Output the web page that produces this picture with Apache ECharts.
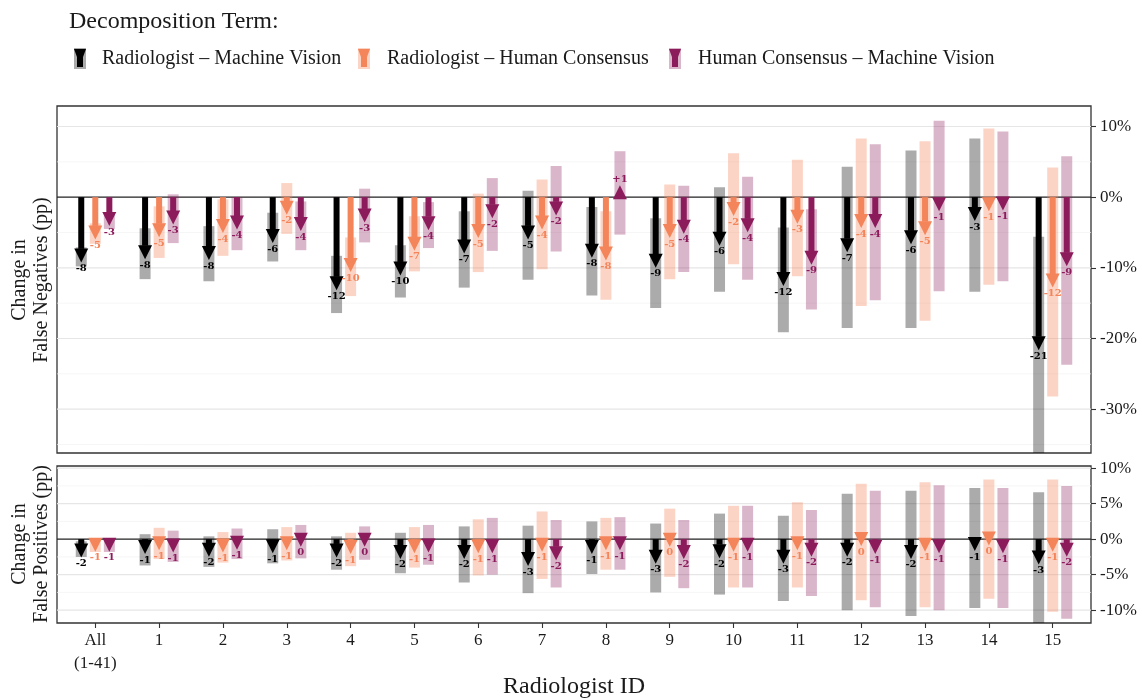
<!DOCTYPE html>
<html>
<head>
<meta charset="utf-8">
<script src="https://cdn.jsdelivr.net/npm/echarts@6/dist/echarts.min.js"></script>
<style>html,body{margin:0;padding:0;background:#fff}#c{width:1142px;height:700px}</style>
</head>
<body>
<div id="c"></div>
<script>
// ---------------- data ----------------
const categories = ["All\n(1-41)", "1", "2", "3", "4", "5", "6", "7", "8", "9", "10", "11", "12", "13", "14", "15"];
const termNames = ["Radiologist \u2013 Machine Vision", "Radiologist \u2013 Human Consensus", "Human Consensus \u2013 Machine Vision"];
const fnTicks = [10, 0, -10, -20, -30];
const fpTicks = [10, 5, 0, -5, -10];

// False negatives (pp)
const fnRadMv   = [-8.45, -8.0, -8.1, -5.7, -12.4, -10.3, -7.2, -5.2, -7.8, -9.2, -6.1, -11.8, -7.0, -5.9, -2.6, -20.9];
const fnRadMvLo = [-9.8, -11.6, -11.9, -9.1, -16.4, -14.2, -12.8, -11.7, -13.9, -15.7, -13.4, -19.1, -18.5, -18.5, -13.4, -40.0];
const fnRadMvHi = [-7.1, -4.4, -4.1, -2.2, -8.3, -6.8, -2.0, 0.9, -1.4, -3.0, 1.4, -4.3, 4.3, 6.6, 8.3, -5.6];
const fnRadHc   = [-5.2, -4.9, -4.3, -1.7, -9.8, -6.8, -5.0, -3.8, -8.2, -5.0, -1.9, -3.0, -3.6, -4.6, -1.2, -12.0];
const fnRadHcLo = [-6.6, -8.6, -8.3, -5.2, -14.0, -10.5, -10.6, -10.2, -14.5, -11.6, -9.5, -11.2, -15.4, -17.5, -12.4, -28.2];
const fnRadHcHi = [-3.7, -1.3, -0.3, 2.0, -5.7, -2.7, 0.5, 2.5, -2.0, 1.8, 6.2, 5.3, 8.3, 7.9, 9.7, 4.2];
const fnHcMv    = [-3.3, -3.1, -3.8, -4.0, -2.8, -3.9, -2.2, -1.8, 0.9, -4.4, -4.2, -8.8, -3.6, -1.2, -1.1, -9.0];
const fnHcMvLo  = [-4.5, -6.5, -7.5, -7.5, -6.4, -7.2, -7.6, -7.7, -5.3, -10.6, -11.7, -15.9, -14.6, -13.3, -11.9, -23.7];
const fnHcMvHi  = [-2.1, 0.4, 0.0, -0.6, 1.2, -0.7, 2.7, 4.4, 6.5, 1.6, 2.9, -1.7, 7.5, 10.8, 9.3, 5.8];

// False positives (pp)
const fpRadMv   = [-1.8, -1.3, -1.7, -1.2, -1.8, -2.0, -2.0, -3.0, -1.3, -2.7, -1.9, -2.7, -1.7, -2.0, -0.9, -2.8];
const fpRadMvLo = [-2.5, -3.7, -3.9, -3.4, -4.3, -4.8, -6.1, -7.6, -4.9, -7.5, -7.8, -8.7, -10.0, -10.8, -9.7, -13.0];
const fpRadMvHi = [-0.3, 0.7, 0.4, 1.4, 0.4, 0.9, 1.8, 1.9, 2.5, 2.2, 3.6, 3.3, 6.4, 6.8, 7.2, 6.6];
const fpRadHc   = [-1.0, -0.8, -1.1, -0.8, -1.3, -1.2, -1.2, -1.0, -0.8, -0.3, -1.0, -0.8, -0.2, -1.0, -0.1, -1.0];
const fpRadHcLo = [-1.8, -2.8, -3.3, -3.0, -3.8, -4.0, -5.1, -5.6, -4.3, -5.3, -6.8, -6.8, -8.6, -9.6, -8.4, -10.2];
const fpRadHcHi = [-0.1, 1.6, 1.0, 1.7, 0.9, 1.7, 2.8, 3.9, 3.0, 4.3, 4.7, 5.2, 7.8, 8.0, 8.4, 8.4];
const fpHcMv    = [-1.0, -1.1, -0.7, -0.3, -0.3, -1.1, -1.2, -2.2, -0.8, -2.0, -1.0, -1.7, -1.3, -1.2, -1.2, -1.7];
const fpHcMvLo  = [-1.8, -3.2, -2.8, -2.7, -2.9, -3.6, -5.0, -6.8, -4.3, -6.9, -6.8, -8.0, -9.6, -10.0, -9.7, -11.2];
const fpHcMvHi  = [-0.1, 1.2, 1.5, 2.0, 1.8, 2.0, 3.0, 2.7, 3.1, 2.7, 4.7, 4.1, 6.8, 7.6, 7.2, 7.5];

// ---------------- style ----------------
const SERIF = "'Liberation Serif', 'DejaVu Serif', serif";
const colors = ["#000000", "#F4845A", "#8C1B5C"];
const ciColors = ["rgba(0,0,0,0.33)", "rgba(244,132,90,0.35)", "rgba(140,27,92,0.32)"];
const offsets = [-0.22, 0, 0.22];
const CIW = 11, SHAFT = 6, HW = 14, HEAD = 14, OVER = 5.5;
// gridline levels: [value, kind] kind 1 = minor, 2 = major, 3 = zero line
const fnGridLevels = [[10, 2], [5, 1], [-5, 1], [-10, 2], [-15, 1], [-20, 2], [-25, 1], [-30, 2], [-35, 1], [0, 3]];
const fpGridLevels = [[10, 2], [7.5, 1], [5, 2], [2.5, 1], [-2.5, 1], [-5, 2], [-7.5, 1], [-10, 2], [0, 3]];

function fmtLabel(v) {
  const r = Math.round(v);
  if (r === 0) return "0";
  return r > 0 ? "+" + r : String(r);
}

function makeRender(k) {
  return function (params, api) {
    const i = api.value(0), v = api.value(1), lo = api.value(2), hi = api.value(3);
    const x = api.coord([i + offsets[k], 0])[0];
    const y0 = api.coord([i, 0])[1];
    const yv = api.coord([i, v])[1];
    const yLo = api.coord([i, lo])[1];
    const yHi = api.coord([i, hi])[1];
    const dir = v < 0 ? 1 : -1;
    const tip = yv + dir * OVER;
    const base = tip - dir * HEAD;
    const children = [];
    children.push({
      type: 'rect',
      shape: { x: x - CIW / 2, y: Math.min(yLo, yHi), width: CIW, height: Math.abs(yLo - yHi) },
      style: { fill: ciColors[k] }
    });
    if (dir * (base - y0) > 0) {
      children.push({
        type: 'rect',
        shape: { x: x - SHAFT / 2, y: Math.min(y0, base), width: SHAFT, height: Math.abs(base - y0) + 0.5 },
        style: { fill: colors[k] }
      });
    }
    children.push({
      type: 'polygon',
      shape: { points: [[x - HW / 2, base], [x + HW / 2, base], [x, tip]] },
      style: { fill: colors[k] }
    });
    children.push({
      type: 'text',
      x: x,
      y: tip + dir * 1,
      style: {
        text: fmtLabel(v),
        fill: colors[k],
        font: "bold 10px 'DejaVu Serif', serif",
        align: 'center',
        verticalAlign: dir > 0 ? 'top' : 'bottom'
      }
    });
    return { type: 'group', children: children };
  };
}

function makeGridRender(levels) {
  return function (params, api) {
    const cs = params.coordSys;
    const children = levels.map(function (lv) {
      const y = api.coord([0, lv[0]])[1];
      let stroke = lv[1] === 2 ? '#E6E6E6' : '#F2F2F2';
      let lw = lv[1] === 2 ? 1.2 : 0.7;
      if (lv[1] === 3) { stroke = '#222'; lw = 1.3; }
      return { type: 'line', shape: { x1: cs.x, y1: y, x2: cs.x + cs.width, y2: y }, style: { stroke: stroke, lineWidth: lw } };
    });
    return { type: 'group', children: children };
  };
}

const fnSets = [[fnRadMv, fnRadMvLo, fnRadMvHi], [fnRadHc, fnRadHcLo, fnRadHcHi], [fnHcMv, fnHcMvLo, fnHcMvHi]];
const fpSets = [[fpRadMv, fpRadMvLo, fpRadMvHi], [fpRadHc, fpRadHcLo, fpRadHcHi], [fpHcMv, fpHcMvLo, fpHcMvHi]];

const series = [];
series.push({ type: 'custom', xAxisIndex: 0, yAxisIndex: 0, silent: true, z: 1, renderItem: makeGridRender(fnGridLevels), data: [[0, 0]] });
series.push({ type: 'custom', xAxisIndex: 1, yAxisIndex: 1, silent: true, z: 1, renderItem: makeGridRender(fpGridLevels), data: [[0, 0]] });
[fnSets, fpSets].forEach(function (sets, p) {
  sets.forEach(function (s, k) {
    series.push({
      type: 'custom',
      name: termNames[k],
      xAxisIndex: p, yAxisIndex: p,
      clip: true, z: 3,
      renderItem: makeRender(k),
      data: s[0].map(function (v, i) { return [i, v, s[1][i], s[2][i]]; }),
      encode: { x: 0, y: 1 }
    });
  });
});

const catIdx = categories.map(function (c, i) { return i; });
const axisTextStyle = { fontFamily: SERIF, fontSize: 17, color: '#1a1a1a' };

function yAxisCfg(idx, min, max, ticks) {
  return {
    type: 'value', gridIndex: idx, position: 'right', min: min, max: max,
    axisLine: { show: false, onZero: false },
    splitLine: { show: false },
    axisTick: { show: true, customValues: ticks, length: 5, lineStyle: { color: '#333', width: 1.1 } },
    axisLabel: Object.assign({ customValues: ticks, margin: 9, formatter: function (v) { return v + '%'; } }, axisTextStyle)
  };
}

const legendItems = [];
const legendX = [80, 364, 675];
const legendTextX = [102, 387, 698];
termNames.forEach(function (n, k) {
  const x = legendX[k];
  legendItems.push({ type: 'rect', shape: { x: x - 6, y: 48, width: 12, height: 21 }, style: { fill: ciColors[k] } });
  legendItems.push({ type: 'polygon', shape: { points: [[x - 6, 49], [x + 6, 49], [x + 3, 57], [x + 3, 67], [x - 3, 67], [x - 3, 57]] }, style: { fill: colors[k] } });
  legendItems.push({ type: 'text', x: legendTextX[k], y: 59, style: { text: n, font: "20px " + SERIF, fill: '#1a1a1a', verticalAlign: 'middle' } });
});

const option = {
  animation: false,
  backgroundColor: '#fff',
  grid: [
    { left: 57, top: 106, right: 51, height: 347, show: true, borderColor: '#333', borderWidth: 1.3, backgroundColor: 'transparent' },
    { left: 57, top: 466, right: 51, height: 157, show: true, borderColor: '#333', borderWidth: 1.3, backgroundColor: 'transparent' }
  ],
  xAxis: [
    { type: 'value', gridIndex: 0, min: -0.6, max: 15.6, axisLine: { show: false, onZero: false }, axisTick: { show: false }, axisLabel: { show: false }, splitLine: { show: false } },
    {
      type: 'value', gridIndex: 1, min: -0.6, max: 15.6,
      axisLine: { show: false, onZero: false }, splitLine: { show: false },
      axisTick: { show: true, customValues: catIdx, length: 5, lineStyle: { color: '#333', width: 1.1 } },
      axisLabel: Object.assign({ customValues: catIdx, margin: 6, lineHeight: 23, formatter: function (v) { return categories[Math.round(v)]; } }, axisTextStyle)
    }
  ],
  yAxis: [
    yAxisCfg(0, -36.2, 12.9, fnTicks),
    yAxisCfg(1, -11.8, 10.3, fpTicks)
  ],
  series: series,
  graphic: [
    { type: 'text', x: 69, y: 22, style: { text: 'Decomposition Term:', font: "24px " + SERIF, fill: '#1a1a1a', verticalAlign: 'middle' } },
    { type: 'group', children: legendItems },
    { type: 'text', x: 31, y: 280, rotation: Math.PI / 2, style: { text: 'Change in\nFalse Negatives (pp)', font: "20px " + SERIF, fill: '#1a1a1a', align: 'center', verticalAlign: 'middle', lineHeight: 22 } },
    { type: 'text', x: 31, y: 544, rotation: Math.PI / 2, style: { text: 'Change in\nFalse Positives (pp)', font: "20px " + SERIF, fill: '#1a1a1a', align: 'center', verticalAlign: 'middle', lineHeight: 22 } },
    { type: 'text', x: 574, y: 687, style: { text: 'Radiologist ID', font: "24px " + SERIF, fill: '#1a1a1a', align: 'center', verticalAlign: 'middle' } }
  ]
};

const chart = echarts.init(document.getElementById('c'), null, { renderer: 'canvas' });
chart.setOption(option);
</script>
</body>
</html>
